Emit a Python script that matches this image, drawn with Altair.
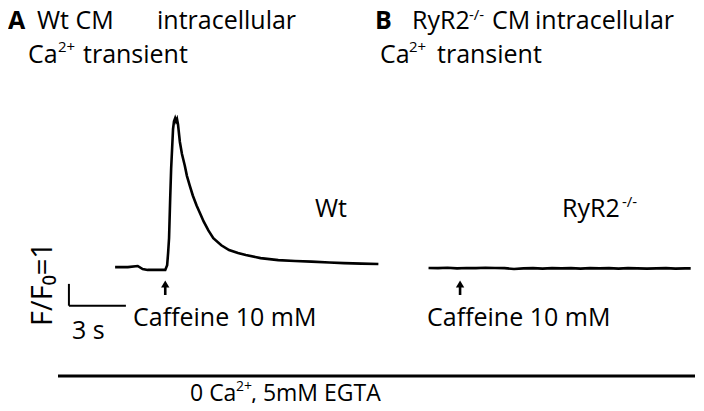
import altair as alt
import pandas as pd

# ---------------- data ----------------
# Wt cardiomyocyte trace: time (s, from start of trace) and F/F0
wt_time = [0.00, 0.67, 1.19, 1.45, 1.71, 2.22, 2.64, 2.74, 2.79, 2.84, 2.90, 2.95,
           3.00, 3.05, 3.10, 3.16, 3.21, 3.26, 3.31, 3.41, 3.52, 3.67, 3.78, 3.93,
           4.09, 4.29, 4.50, 4.66, 4.91, 5.17, 5.59, 6.00, 6.47, 6.88, 7.66, 8.59,
           9.47, 10.34, 11.28, 12.05, 12.98, 13.86]
wt_ff0 = [1.02, 1.02, 1.07, 0.93, 0.89, 0.89, 0.89, 1.11, 1.66, 2.34, 4.16, 5.52,
          6.43, 7.34, 7.70, 7.84, 7.70, 7.80, 7.57, 6.75, 6.20, 5.66, 5.20, 4.75,
          4.30, 3.84, 3.43, 3.11, 2.70, 2.34, 2.02, 1.80, 1.66, 1.57, 1.43, 1.34,
          1.30, 1.27, 1.23, 1.20, 1.18, 1.16]

# RyR2-/- cardiomyocyte trace
ko_time = [0.0, 0.5, 1.0, 1.5, 2.0, 2.5, 3.0, 3.5, 4.0, 4.5, 5.0, 5.5, 6.0, 6.5,
           7.0, 7.5, 8.0, 8.5, 9.0, 9.5, 10.0, 10.5, 11.0, 11.5, 12.0, 12.5, 13.0,
           13.5, 13.8]
ko_ff0 = [0.98, 0.97, 0.99, 0.96, 0.98, 0.97, 0.99, 0.98, 0.97, 0.93, 0.96, 0.97,
          0.95, 0.97, 0.96, 0.97, 0.95, 0.97, 0.96, 0.97, 0.95, 0.97, 0.96, 0.95,
          0.96, 0.97, 0.95, 0.96, 0.96]

# caffeine application times (s, from start of each trace)
caffeine_time = {"Wt": 2.64, "RyR2": 1.66}

# calibration bars
scalebar_time = 3.0   # s
scalebar_ff0 = 1.0    # F/F0 units

# ---------------- layout ----------------
W, H = 688, 395
PX_PER_S = 58 / 3.0
PX_PER_F = 22.0
X0_PX = 109          # chart x of Wt trace start
F1_PX = 261.5        # chart y of F/F0 = 1
KO_OFFSET = 16.5     # s, horizontal offset of panel B trace
FONT = "Open Sans"
FS = 25

x_dom = [-X0_PX / PX_PER_S, (W - X0_PX) / PX_PER_S]
y_dom = [1 - (H - F1_PX) / PX_PER_F, 1 + F1_PX / PX_PER_F]
xs = alt.Scale(domain=x_dom, nice=False, zero=False)
ys = alt.Scale(domain=y_dom, nice=False, zero=False)

traces = pd.concat([
    pd.DataFrame({"trace": "Wt", "t": wt_time, "f": wt_ff0, "off": 0.0}),
    pd.DataFrame({"trace": "RyR2", "t": ko_time, "f": ko_ff0, "off": KO_OFFSET}),
], ignore_index=True)
traces["tp"] = traces["t"] + traces["off"]

lines = alt.Chart(traces).mark_line(color="black", strokeWidth=2.6).encode(
    x=alt.X("tp:Q", scale=xs, axis=None),
    y=alt.Y("f:Q", scale=ys, axis=None),
    detail="trace:N",
)

caff = pd.DataFrame({
    "trace": list(caffeine_time.keys()),
    "tp": [caffeine_time["Wt"], caffeine_time["RyR2"] + KO_OFFSET],
})
shafts = alt.Chart(caff).mark_rule(color="black", strokeWidth=2.6).encode(
    x=alt.X("tp:Q", scale=xs, axis=None),
    y=alt.value(277), y2=alt.value(287),
)
heads = alt.Chart(caff).mark_point(shape="triangle-up", filled=True, color="black",
                                   opacity=1, size=70).encode(
    x=alt.X("tp:Q", scale=xs, axis=None),
    y=alt.value(276),
)

SB_T0 = (70 - 117) / PX_PER_S
SB_F0 = 1 + (269.5 - 308) / PX_PER_F
sb = pd.DataFrame({"t0": [SB_T0], "t1": [SB_T0 + scalebar_time],
                   "f0": [SB_F0], "f1": [SB_F0 + scalebar_ff0]})
sb_h = alt.Chart(sb).mark_rule(color="black", strokeWidth=2).encode(
    x=alt.X("t0:Q", scale=xs, axis=None), x2="t1:Q",
    y=alt.Y("f0:Q", scale=ys, axis=None),
)
sb_v = alt.Chart(sb).mark_rule(color="black", strokeWidth=2).encode(
    x=alt.X("t0:Q", scale=xs, axis=None),
    y=alt.Y("f0:Q", scale=ys, axis=None), y2="f1:Q",
)

one = pd.DataFrame({"a": [0]})
bottom = alt.Chart(one).mark_rule(color="black", strokeWidth=3).encode(
    x=alt.value(50), x2=alt.value(687), y=alt.value(368),
)


def txt(s, x, y, size=FS, weight="normal", angle=0, align="left",
        baseline="alphabetic"):
    return alt.Chart(one).mark_text(
        text=s, font=FONT, fontSize=size, fontWeight=weight, angle=angle,
        align=align, baseline=baseline, color="black",
    ).encode(x=alt.value(x), y=alt.value(y))


SUP = 15
texts = [
    # panel A title
    txt("A", 0, 21, weight="bold"),
    txt("Wt CM", 29, 21),
    txt("intracellular", 149, 21),
    txt("Ca", 20, 55), txt("2+", 50, 44, size=SUP), txt("transient", 75, 55),
    # panel B title
    txt("B", 367, 21, weight="bold"),
    txt("RyR2", 404, 21), txt("-/-", 461, 12, size=SUP),
    txt("CM", 484, 21), txt("intracellular", 527, 21),
    txt("Ca", 372, 55), txt("2+", 401, 44, size=SUP), txt("transient", 429, 55),
    # trace labels
    txt("Wt", 307, 209),
    txt("RyR2", 554, 209), txt("-/-", 614, 199, size=SUP),
    txt("Caffeine 10 mM", 125, 318),
    txt("Caffeine 10 mM", 419, 318),
    # calibration
    txt("3 s", 64, 331),
    txt("F/F\u2080=1", 35, 276, size=29, angle=270, align="center",
        baseline="middle"),
    # solution bar
    txt("0 Ca", 182, 393, size=23), txt("2+", 228, 383, size=14),
    txt(", 5mM EGTA", 243, 393, size=23),
]

chart = alt.layer(lines, shafts, heads, sb_h, sb_v, bottom, *texts).properties(
    width=W, height=H, padding=0,
    autosize=alt.AutoSizeParams(type="fit", contains="padding"),
).configure_view(stroke=None)

chart.save("out.html", embed_options={"renderer": "svg", "actions": False})
